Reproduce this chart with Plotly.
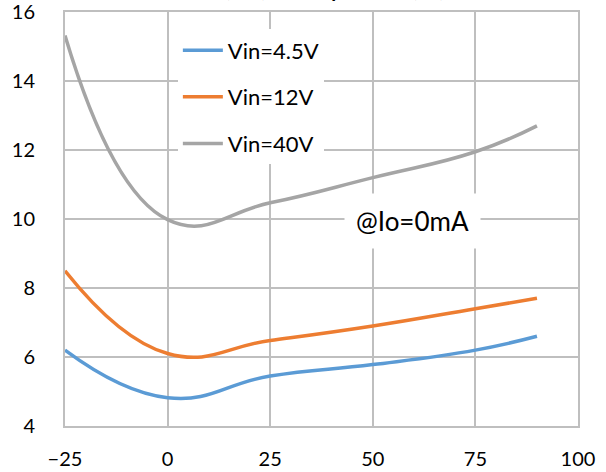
import plotly.graph_objects as go

temps = [-25, 0, 25, 50, 75, 90]
iq_4v5 = [6.2, 4.82, 5.45, 5.78, 6.2, 6.6]
iq_12v = [8.5, 6.1, 6.48, 6.9, 7.4, 7.7]
iq_40v = [15.32, 9.98, 10.47, 11.2, 11.95, 12.7]
series_names = ["Vin=4.5V", "Vin=12V", "Vin=40V"]
series_colors = ["#5B9BD5", "#ED7D31", "#A5A5A5"]
x_ticks = [-25, 0, 25, 50, 75, 100]
y_ticks = [4, 6, 8, 10, 12, 14, 16]

FONT = "Lato, Carlito, Calibri, sans-serif"
GRID = "#BFBFBF"

fig = go.Figure()
for name, ys, col in zip(series_names, [iq_4v5, iq_12v, iq_40v], series_colors):
    fig.add_trace(go.Scatter(
        x=temps, y=ys, name=name, mode="lines", legendgroup=name,
        line=dict(color=col, width=3.5, shape="spline", smoothing=1.3),
    ))

fig.update_layout(
    width=606, height=472,
    margin=dict(l=65, r=28, t=12, b=46, autoexpand=False),
    paper_bgcolor="white", plot_bgcolor="white",
    font=dict(family=FONT, size=20, color="black"),
    showlegend=True,
    legend=dict(
        x=0.22, y=0.958, xanchor="left", yanchor="top",
        bgcolor="white", borderwidth=0,
        font=dict(family=FONT, size=22, color="black"),
        tracegroupgap=15, traceorder="grouped",
        itemwidth=40,
    ),
    shapes=[
        dict(type="rect", xref="paper", yref="paper",
             x0=0.185, x1=0.556, y0=0.63, y1=0.951,
             fillcolor="white", line=dict(width=0), layer="between"),
    ],
    xaxis=dict(
        range=[-25, 100], tickmode="array", tickvals=x_ticks,
        showgrid=True, gridcolor=GRID, gridwidth=1.5,
        showline=True, mirror=True, linecolor=GRID, linewidth=2,
        zeroline=False, ticks="", ticklabelstandoff=14, automargin=False,
        ticklabeloverflow="allow",
        tickfont=dict(family=FONT, size=20, color="black"),
    ),
    yaxis=dict(
        range=[4, 16], tickmode="array", tickvals=y_ticks,
        showgrid=True, gridcolor=GRID, gridwidth=1.5,
        showline=True, mirror=True, linecolor=GRID, linewidth=2,
        zeroline=False, ticks="", ticklabelstandoff=24, automargin=False,
        ticklabeloverflow="allow",
        tickfont=dict(family=FONT, size=20, color="black"),
    ),
    annotations=[
        dict(
            text="@Io=0mA", x=0.678, y=0.495, xref="paper", yref="paper",
            xanchor="center", yanchor="middle", showarrow=False,
            bgcolor="white", borderpad=11,
            font=dict(family=FONT, size=26, color="black"),
        ),
        dict(
            text="<b>IQ (mA) vs Temperature (°C)</b>", x=0.5, y=1.0,
            xref="paper", yref="paper", xanchor="center", yanchor="bottom",
            yshift=9, showarrow=False,
            font=dict(family=FONT, size=20, color="black"),
        ),
    ],
)

fig.write_html("out.html", config={"displayModeBar": False},
               post_script="document.body.style.margin='0px';")
